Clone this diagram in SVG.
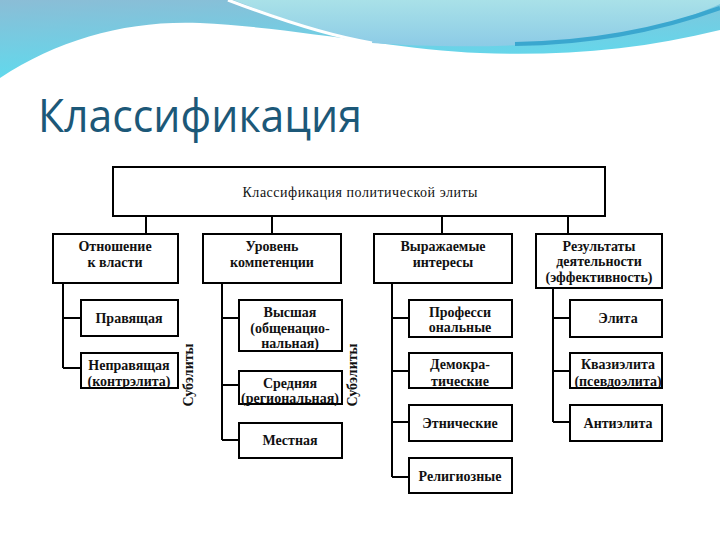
<svg xmlns="http://www.w3.org/2000/svg" width="720" height="540" viewBox="0 0 720 540">
<style>
.b{fill:#fff;stroke:#000;stroke-width:2}
.c{fill:none;stroke:#000;stroke-width:2}
text.t{font-family:'Liberation Serif','Times New Roman',serif;font-size:14px;font-weight:bold;fill:#111;text-anchor:middle}
text.r{font-family:'Liberation Serif','Times New Roman',serif;font-size:14px;fill:#111;text-anchor:middle}
</style>
<defs>
<linearGradient id="g1" x1="0" y1="0" x2="0.3" y2="1">
<stop offset="0" stop-color="#8bbdd6"/>
<stop offset="1" stop-color="#5edbee"/>
</linearGradient>
<linearGradient id="g2" x1="0" y1="0" x2="0" y2="1">
<stop offset="0" stop-color="#a9e1e8"/>
<stop offset="1" stop-color="#8ccbe6"/>
</linearGradient>
</defs>
<rect width="720" height="540" fill="#fff"/>
<g id="decor">
<path d="M0,0 H720 V30 C640,50 560,56 480,53 C400,50 300,28 200,23 C130,20 60,38 0,78 Z" fill="url(#g1)"/>
<path d="M233,0 C280,18 330,36 372,43 C430,47 500,48 560,42 C640,34 690,18 720,4 V0 Z" fill="url(#g2)"/>
<path d="M228,0 C280,20 330,36 372,43" fill="none" stroke="#fff" stroke-width="3"/>
<path d="M515,44 C600,43 670,26 720,8" fill="none" stroke="#3aa7cf" stroke-width="4"/>
</g>
<text x="38" y="132" font-family="'Open Sans','Noto Sans',sans-serif" font-size="45" fill="#1c5878" textLength="324" lengthAdjust="spacingAndGlyphs">Классификация</text>
<g id="connectors">
<path class="c" d="M146,216 V234 M272,216 V234 M442,216 V234 M568,216 V234"/>
<path class="c" d="M63,283 V368 M63,318 H81 M63,368 H81"/>
<path class="c" d="M222,283 V440 M222,318 H239 M222,385 H239 M222,440 H239"/>
<path class="c" d="M392,283 V477 M392,318 H409 M392,371 H409 M392,422 H409 M392,477 H409"/>
<path class="c" d="M553,288 V422 M553,318 H570 M553,371 H570 M553,422 H570"/>
</g>
<g id="root"><rect class="b" x="113" y="167" width="492" height="49"/><text class="r" x="360" y="197" textLength="235" lengthAdjust="spacing">Классификация политической элиты</text></g>
<g id="n1"><rect class="b" x="53" y="234" width="125" height="49"/><text class="t" x="115" y="251">Отношение</text><text class="t" x="115" y="267">к власти</text></g>
<g id="n2"><rect class="b" x="203" y="234" width="138" height="49"/><text class="t" x="272" y="251">Уровень</text><text class="t" x="272" y="267">компетенции</text></g>
<g id="n3"><rect class="b" x="374" y="234" width="138" height="49"/><text class="t" x="443" y="251">Выражаемые</text><text class="t" x="443" y="267">интересы</text></g>
<g id="n4"><rect class="b" x="536" y="234" width="126" height="54"/><text class="t" x="599" y="251">Результаты</text><text class="t" x="599" y="266">деятельности</text><text class="t" x="599" y="282">(эффективность)</text></g>
<g id="n1a"><rect class="b" x="81" y="300" width="97" height="36"/><text class="t" x="129" y="323">Правящая</text></g>
<g id="n1b"><rect class="b" x="81" y="353" width="97" height="35"/><text class="t" x="129" y="370">Неправящая</text><text class="t" x="129" y="386">(контрэлита)</text></g>
<g id="sub1"><text class="t" transform="translate(193,375) rotate(-90)">Субэлиты</text></g>
<g id="n2a"><rect class="b" x="239" y="300" width="103" height="51"/><text class="t" x="290" y="317">Высшая</text><text class="t" x="290" y="333">(общенацио-</text><text class="t" x="290" y="348">нальная)</text></g>
<g id="n2b"><rect class="b" x="239" y="371" width="103" height="33"/><text class="t" x="290" y="388">Средняя</text><text class="t" x="290" y="403">(региональная)</text></g>
<g id="n2c"><rect class="b" x="239" y="423" width="103" height="35"/><text class="t" x="290" y="445">Местная</text></g>
<g id="sub2"><text class="t" transform="translate(357,375) rotate(-90)">Субэлиты</text></g>
<g id="n3a"><rect class="b" x="409" y="300" width="103" height="37"/><text class="t" x="460" y="317">Професси</text><text class="t" x="460" y="332">ональные</text></g>
<g id="n3b"><rect class="b" x="409" y="353" width="103" height="35"/><text class="t" x="460" y="369">Демокра-</text><text class="t" x="460" y="386">тические</text></g>
<g id="n3c"><rect class="b" x="409" y="405" width="103" height="36"/><text class="t" x="460" y="428">Этнические</text></g>
<g id="n3d"><rect class="b" x="409" y="458" width="103" height="35"/><text class="t" x="460" y="481">Религиозные</text></g>
<g id="n4a"><rect class="b" x="570" y="300" width="92" height="37"/><text class="t" x="618" y="323">Элита</text></g>
<g id="n4b"><rect class="b" x="570" y="353" width="92" height="35"/><text class="t" x="618" y="369">Квазиэлита</text><text class="t" x="618" y="386">(псевдоэлита)</text></g>
<g id="n4c"><rect class="b" x="570" y="405" width="92" height="36"/><text class="t" x="618" y="428">Антиэлита</text></g>
</svg>
